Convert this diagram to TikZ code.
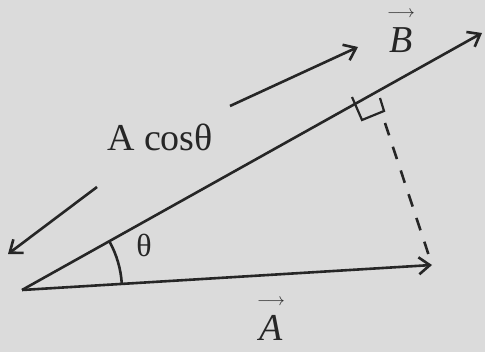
\documentclass[tikz,border=0pt]{standalone}
\usepackage{fontspec}
\setmainfont{Liberation Serif}
\usetikzlibrary{arrows.meta,positioning,calc}

\newcommand{\arrowover}[1]{\shortstack{\fontsize{16}{16}\selectfont$\longrightarrow$\\[7pt]\itshape #1}}

\begin{document}
\begin{tikzpicture}[
  x=1pt, y=-1pt,
  ink/.style={draw=black!85, line width=2.6pt},
  vecline/.style={ink, -{Straight Barb[length=11pt,width=17pt,line width=2.6pt]}},
  proj/.style={ink, dash pattern=on 13pt off 12pt},
  lbl/.style={font=\fontsize{38}{40}\selectfont, text=black!85, inner sep=0pt}
]
\useasboundingbox (0,0) rectangle (485,352);
\fill[black!14] (0,0) rectangle (485,352);

% ===== Points =====
\coordinate (O)    at (22,290);
\coordinate (Atip) at (432,265);
\coordinate (Btip) at (482,33);
\coordinate (foot) at (385,123);

% ===== Vectors =====
\draw[vecline] (O) -- (Atip);
\draw[vecline] (O) -- (Btip);

% angle between A and B
\draw[ink] ($(O)+(-29:100)$) arc[start angle=-29, end angle=-3.5, radius=100];
\node[lbl, font=\fontsize{32}{34}\selectfont] (th) at (144,245) {θ};

% ----- projection of A on B -----
\draw[proj] (foot) -- (Atip);
\draw[ink, line width=2.2pt] (352,97) -- (362,120) -- (384,111) -- (380,98);

% ----- A cos theta dimension -----
\coordinate (upS) at (230,106);
\coordinate (upE) at (358,47);
\coordinate (dnS) at (97,187);
\coordinate (dnE) at (8,254);
\draw[vecline] (upS) -- (upE);
\draw[vecline] (dnS) -- (dnE);
\node[lbl] (acos) at (160,137) {A cosθ};

% ===== Labels =====
\node[lbl, anchor=south] (labB) at (401,53) {\arrowover{B}};
\node[lbl, anchor=south] (labA) at (271,341) {\arrowover{A}};
\end{tikzpicture}
\end{document}
